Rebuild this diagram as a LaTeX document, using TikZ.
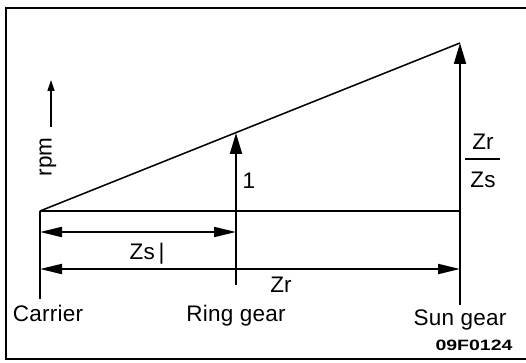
\documentclass[tikz,border=0pt]{standalone}
\usepackage{fontspec}
\setmainfont{Liberation Sans}
\newfontfamily\gearfont[LetterSpace=1]{Liberation Sans}
\usetikzlibrary{arrows.meta, positioning}

\begin{document}
\begin{tikzpicture}[x=1pt, y=-1pt,
  gearlabel/.style = {font=\gearfont\fontsize{22.5}{22.5}\selectfont, inner sep=0pt, anchor=base},
  codelabel/.style = {font=\bfseries\fontsize{15}{15}\selectfont, inner sep=0pt, anchor=base, xscale=1.3, transform shape},
  rod/.style = {line width=1.5pt},
  speedarrow/.style = {line width=2pt, -{Triangle[length=21pt, width=12pt]}},
  dimarrow/.style = {line width=2pt, {Triangle[length=22pt, width=10pt]}-{Triangle[length=22pt, width=10pt]}}
]
\useasboundingbox (0,0) rectangle (526,363);

% frame
\draw[line width=2.4pt] (526,8) -- (6,8) -- (6,359) -- (526,359);

% gear positions
\coordinate (carrier) at (40,211);
\coordinate (ring) at (236,211);
\coordinate (sun) at (460,211);
\coordinate (ringtop) at (236,133);
\coordinate (suntop) at (460,43);
\coordinate (carrierend) at (40,299);
\coordinate (ringend) at (236,285);
\coordinate (sunend) at (460,305);

\draw[rod] (carrier) -- (suntop);
\draw[rod] (carrier) -- (sun);
\draw[rod] (carrier) -- (carrierend);
\draw[rod] (ring) -- (ringend);
\draw[rod] (sun) -- (sunend);

% speeds
\draw[speedarrow] (ring) -- (ringtop);
\draw[speedarrow] (sun) -- (suntop);

% distances
\coordinate (zsleft) at (40,232);
\coordinate (zsright) at (236,232);
\coordinate (zrleft) at (40,269);
\coordinate (zrright) at (460,269);
\draw[dimarrow] (zsleft) -- (zsright);
\draw[dimarrow] (zrleft) -- (zrright);

% rpm axis
\coordinate (rpmfoot) at (51,127);
\coordinate (rpmtip) at (51,80);
\draw[line width=1.5pt, -{Triangle[length=11pt, width=7pt]}] (rpmfoot) -- (rpmtip);
\node[font=\gearfont\fontsize{22.5}{22.5}\selectfont, inner sep=0pt, rotate=90] (rpm) at (48,157) {rpm};

% labels
\node[gearlabel] (one) at (249,188) {1};
\node[gearlabel] (zrnum) at (483,150) {Zr};
\node[gearlabel] (zsden) at (483,187) {Zs};
\draw[line width=1.3pt] (465,159) -- (500,159);
\node[gearlabel] (zs) at (147,259) {Zs\,|};
\node[gearlabel] (zr) at (281,292) {Zr};
\node[gearlabel] (carrierlabel) at (48,321) {Carrier};
\node[gearlabel] (ringlabel) at (236,321) {Ring gear};
\node[gearlabel] (sunlabel) at (460,325) {Sun gear};
\node[codelabel] (code) at (474,350) {09F0124};
\end{tikzpicture}
\end{document}
